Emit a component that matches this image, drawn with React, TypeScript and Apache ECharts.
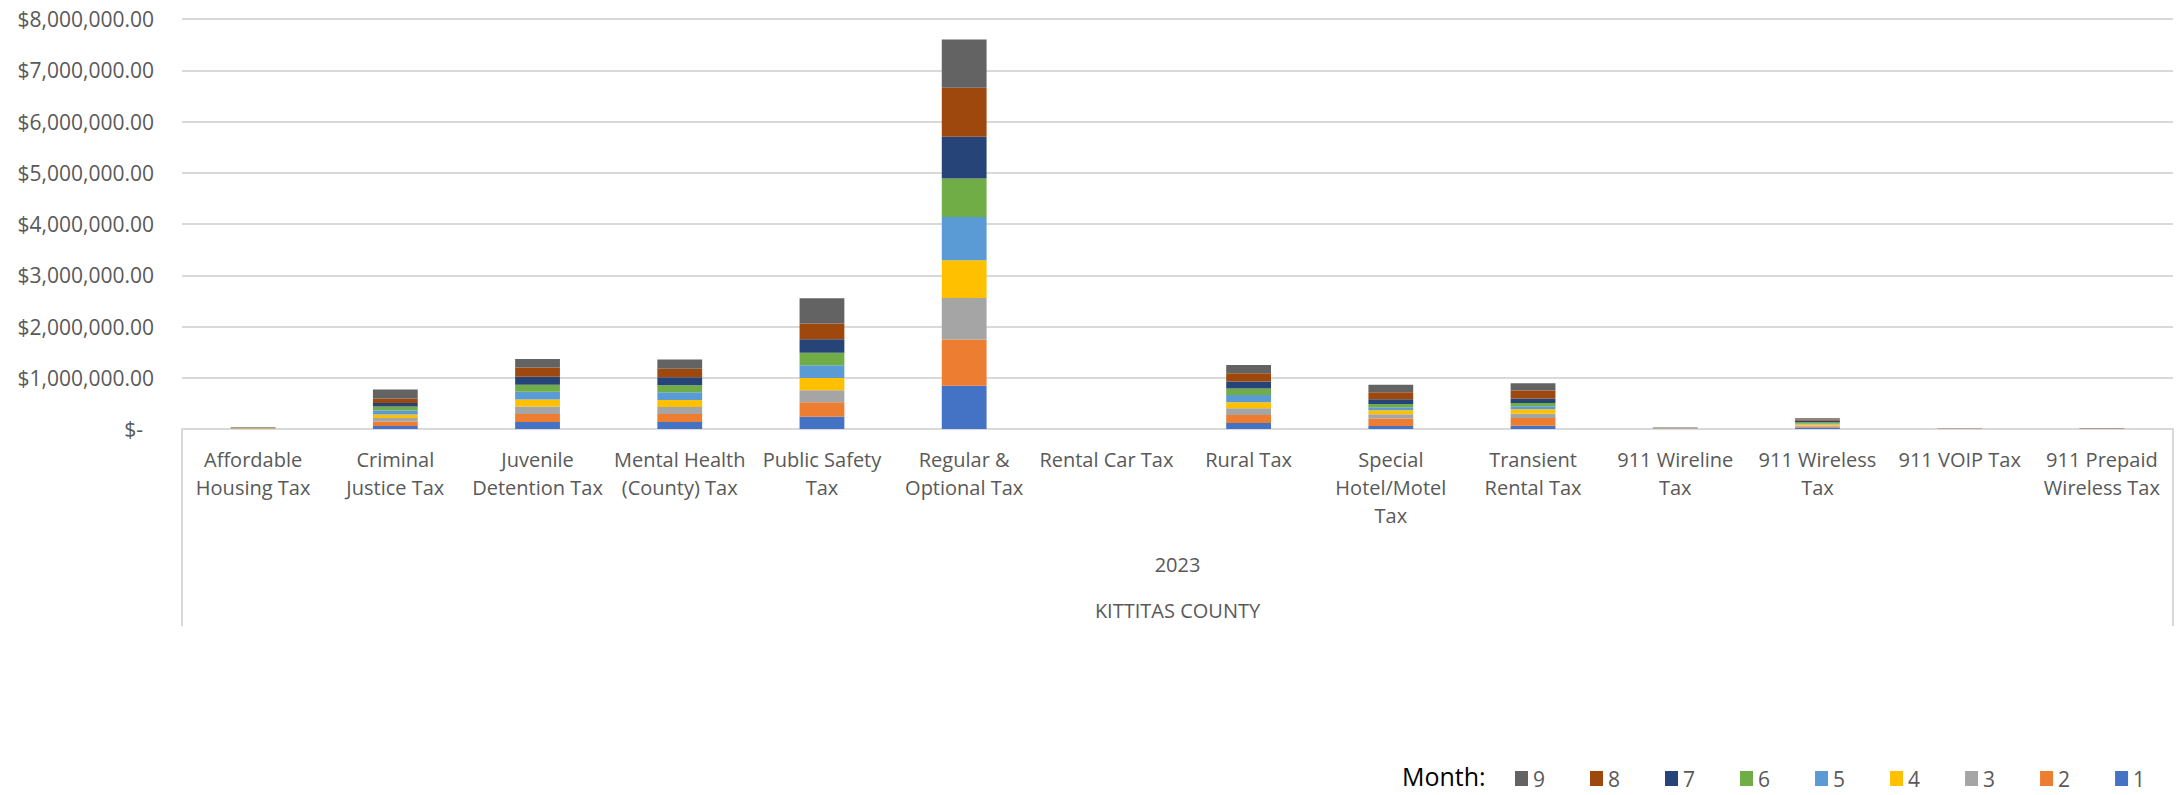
import React, { useEffect, useRef } from "react";
import * as echarts from "echarts";

const categories = [
  "Affordable Housing Tax",
  "Criminal Justice Tax",
  "Juvenile Detention Tax",
  "Mental Health (County) Tax",
  "Public Safety Tax",
  "Regular & Optional Tax",
  "Rental Car Tax",
  "Rural Tax",
  "Special Hotel/Motel Tax",
  "Transient Rental Tax",
  "911 Wireline Tax",
  "911 Wireless Tax",
  "911 VOIP Tax",
  "911 Prepaid Wireless Tax",
];

const tickLabels = [
  "Affordable\nHousing Tax",
  "Criminal\nJustice Tax",
  "Juvenile\nDetention Tax",
  "Mental Health\n(County) Tax",
  "Public Safety\nTax",
  "Regular &\nOptional Tax",
  "Rental Car Tax",
  "Rural Tax",
  "Special\nHotel/Motel\nTax",
  "Transient\nRental Tax",
  "911 Wireline\nTax",
  "911 Wireless\nTax",
  "911 VOIP Tax",
  "911 Prepaid\nWireless Tax",
];

const yearLabel = "2023";
const countyLabel = "KITTITAS COUNTY";

const month1 = [4500, 59000, 137000, 137000, 237000, 846000, 0, 118000, 59000, 65000, 3500, 22000, 1000, 1500];
const month2 = [4500, 85000, 157000, 157000, 283000, 898000, 0, 157000, 144000, 150000, 3500, 24000, 1000, 1600];
const month3 = [4400, 72000, 144000, 137000, 237000, 814000, 0, 131000, 85000, 85000, 3400, 23000, 1000, 1500];
const month4 = [4500, 65000, 137000, 137000, 237000, 735000, 0, 118000, 78000, 85000, 3500, 23000, 1100, 1600];
const month5 = [4600, 78000, 150000, 150000, 250000, 846000, 0, 137000, 59000, 59000, 3500, 22000, 1000, 1700];
const month6 = [4500, 78000, 137000, 137000, 243000, 748000, 0, 131000, 65000, 65000, 3400, 23000, 1000, 1600];
const month7 = [4400, 72000, 157000, 157000, 263000, 814000, 0, 137000, 92000, 85000, 3500, 24000, 1100, 1700];
const month8 = [4500, 85000, 183000, 163000, 309000, 957000, 0, 157000, 137000, 157000, 3600, 23000, 1000, 1600];
const month9 = [4600, 176000, 163000, 183000, 493000, 943000, 0, 163000, 144000, 144000, 3600, 25000, 1100, 1700];

const monthNames = ["1", "2", "3", "4", "5", "6", "7", "8", "9"];
const monthValues = [month1, month2, month3, month4, month5, month6, month7, month8, month9];
const monthColors = ["#4472C4", "#ED7D31", "#A5A5A5", "#FFC000", "#5B9BD5", "#70AD47", "#264478", "#9E480E", "#636363"];

const yMin = 0;
const yMax = 8000000;
const yInterval = 1000000;

const FONT = "'Open Sans', 'Noto Sans', sans-serif";

export default function App() {
  const ref = useRef<HTMLDivElement>(null);

  useEffect(() => {
    if (!ref.current) return;
    const chart = echarts.init(ref.current, null, { renderer: "svg" });

    const W = 2183;
    const gridLeft = 182;
    const gridRight = 10;
    const gridTop = 19;
    const gridBottom = 366;
    const baseY = 795 - gridBottom;

    const series = monthNames.map((name, i) => ({
      name,
      type: "bar",
      stack: "total",
      xAxisIndex: 0,
      barWidth: "31.5%",
      data: monthValues[i],
      itemStyle: {
        color: monthColors[i],
        borderWidth: 0,
      },
    }));

    chart.setOption({
      animation: false,
      backgroundColor: "#ffffff",
      textStyle: { fontFamily: FONT },
      grid: { left: gridLeft, right: gridRight, top: gridTop, bottom: gridBottom },
      title: {
        text: "Month:",
        left: 1402,
        top: 762,
        padding: 0,
        textStyle: { fontFamily: FONT, fontSize: 25, lineHeight: 28, fontWeight: "normal", color: "#000000" },
      },
      legend: {
        data: [...monthNames].reverse(),
        left: 1515,
        top: 768,
        padding: 0,
        itemWidth: 13,
        itemHeight: 15,
        itemGap: 45,
        icon: "rect",
        textStyle: { fontFamily: FONT, fontSize: 21, lineHeight: 21, color: "#595959" },
      },
      xAxis: [
        {
          type: "category",
          data: categories,
          axisLine: { show: true, lineStyle: { color: "#d9d9d9", width: 2 } },
          axisTick: { show: false },
          axisLabel: {
            interval: 0,
            margin: 16,
            color: "#595959",
            fontSize: 20,
            lineHeight: 28,
            fontFamily: FONT,
            formatter: (_v: string, idx: number) => tickLabels[idx],
          },
        },
        {
          type: "category",
          data: [yearLabel],
          position: "bottom",
          offset: 117,
          axisLine: { show: false },
          axisTick: { show: false },
          axisLabel: { margin: 8, color: "#595959", fontSize: 20, fontFamily: FONT },
        },
        {
          type: "category",
          data: [countyLabel],
          position: "bottom",
          offset: 163,
          axisLine: { show: false },
          axisTick: { show: false },
          axisLabel: { margin: 8, color: "#595959", fontSize: 20, fontFamily: FONT },
        },
      ],
      yAxis: {
        type: "value",
        min: yMin,
        max: yMax,
        interval: yInterval,
        axisLine: { show: false },
        axisTick: { show: false },
        splitLine: { lineStyle: { color: "#d9d9d9", width: 2 } },
        axisLabel: {
          margin: 28,
          color: "#595959",
          fontSize: 21,
          fontFamily: FONT,
          formatter: (v: number) =>
            v === 0
              ? "{z|$-}"
              : "$" + v.toLocaleString("en-US", { minimumFractionDigits: 2, maximumFractionDigits: 2 }),
          rich: { z: { padding: [0, 11, 0, 0], fontSize: 21, color: "#595959", fontFamily: FONT } },
        },
      },
      graphic: [
        {
          type: "line",
          shape: { x1: gridLeft, y1: baseY, x2: gridLeft, y2: 626 },
          style: { stroke: "#d9d9d9", lineWidth: 2 },
        },
        {
          type: "line",
          shape: { x1: W - gridRight, y1: baseY, x2: W - gridRight, y2: 626 },
          style: { stroke: "#d9d9d9", lineWidth: 2 },
        },
      ],
      series,
    });

    return () => chart.dispose();
  }, []);

  return (
    <div
      ref={ref}
      style={{ position: "fixed", left: 0, top: 0, width: 2183, height: 795, background: "#fff" }}
    />
  );
}
